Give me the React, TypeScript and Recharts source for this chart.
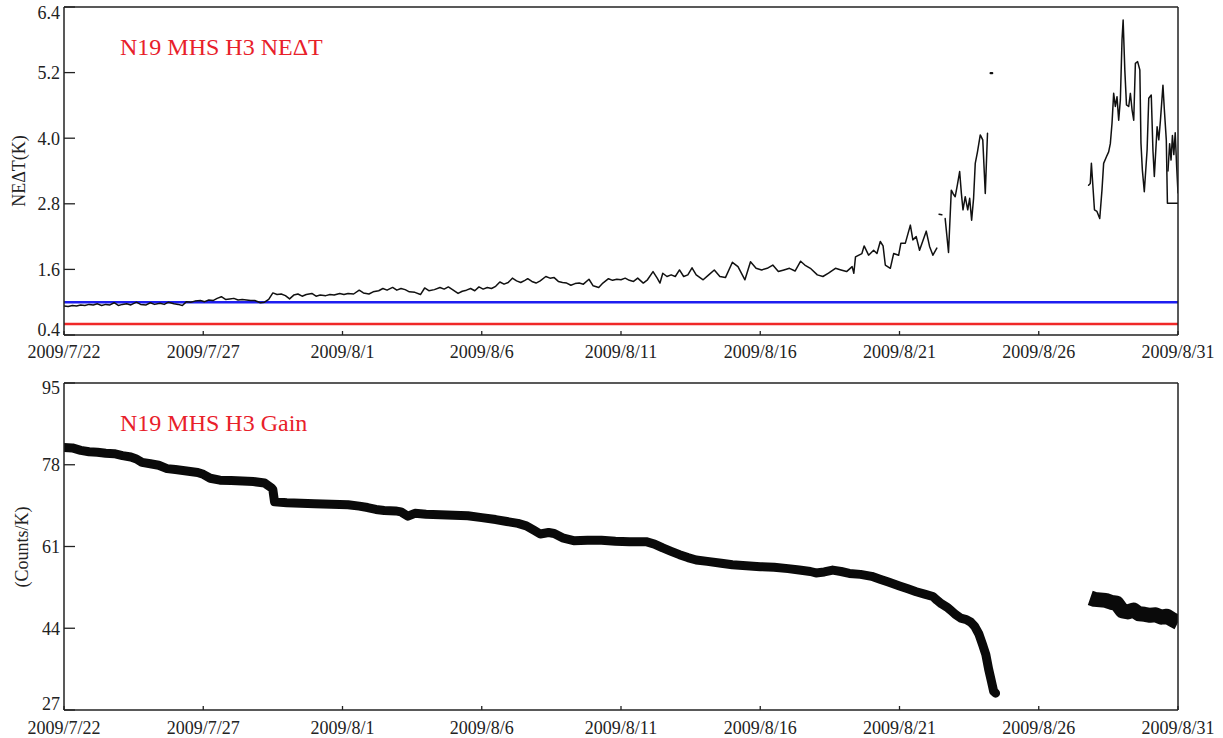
import React from 'react';
import { LineChart, Line, XAxis, YAxis, ReferenceLine } from 'recharts';

// ---- axis labels / ticks ----
const dateLabels = ['2009/7/22', '2009/7/27', '2009/8/1', '2009/8/6', '2009/8/11', '2009/8/16', '2009/8/21', '2009/8/26', '2009/8/31'];
const dayTicks = [0, 5, 10, 15, 20, 25, 30, 35, 40];
const netTicks = [0.4, 1.6, 2.8, 4.0, 5.2, 6.4];
const gainTicks = [27, 44, 61, 78, 95];

// ---- reference levels (K) ----
const netSpecLimit = 1.0;
const netPrelaunch = 0.6;

// ---- NEdT series: [day since 2009/7/22, K] ----
const neSeg1: [number, number][] = [
  [0.0, 0.93], [0.15, 0.92], [0.3, 0.94], [0.45, 0.93], [0.6, 0.95], [0.75, 0.94], [0.9, 0.96], [1.05, 0.95],
  [1.2, 0.97], [1.35, 0.94], [1.5, 0.96], [1.65, 0.95], [1.8, 0.99], [1.95, 0.94], [2.1, 0.96], [2.25, 0.97],
  [2.4, 0.95], [2.6, 1.0], [2.75, 0.96], [2.95, 0.95], [3.1, 0.99], [3.25, 0.96], [3.45, 0.98], [3.6, 0.96],
  [3.75, 1.0], [3.95, 0.97], [4.1, 0.96], [4.25, 0.94], [4.4, 1.01], [4.55, 1.0], [4.7, 1.02], [4.9, 1.03],
  [5.05, 1.01], [5.2, 1.04], [5.35, 1.03], [5.5, 1.07], [5.65, 1.1], [5.8, 1.05], [5.95, 1.06], [6.1, 1.07],
  [6.25, 1.04], [6.4, 1.05], [6.55, 1.04], [6.7, 1.03], [6.85, 1.03], [7.05, 0.99], [7.2, 1.0], [7.35, 1.05],
  [7.5, 1.17], [7.65, 1.14], [7.8, 1.15], [7.95, 1.12], [8.1, 1.06], [8.25, 1.13], [8.4, 1.15], [8.55, 1.11],
  [8.7, 1.14], [8.9, 1.16], [9.05, 1.11], [9.2, 1.13], [9.4, 1.12], [9.55, 1.14], [9.7, 1.13], [9.9, 1.16],
  [10.05, 1.14], [10.2, 1.16], [10.4, 1.15], [10.6, 1.22], [10.75, 1.17], [10.95, 1.15], [11.1, 1.19], [11.3, 1.21],
  [11.45, 1.25], [11.6, 1.22], [11.8, 1.27], [11.95, 1.22], [12.1, 1.25], [12.25, 1.23], [12.4, 1.19], [12.6, 1.18],
  [12.8, 1.14], [12.95, 1.26], [13.1, 1.21], [13.3, 1.23], [13.5, 1.27], [13.65, 1.24], [13.8, 1.28], [13.95, 1.23],
  [14.15, 1.16], [14.3, 1.2], [14.45, 1.22], [14.6, 1.25], [14.75, 1.21], [14.9, 1.28], [15.05, 1.24], [15.2, 1.27],
  [15.35, 1.25], [15.5, 1.29], [15.65, 1.37], [15.8, 1.33], [15.95, 1.36], [16.1, 1.44], [16.25, 1.39], [16.4, 1.36],
  [16.55, 1.4], [16.65, 1.43], [16.8, 1.38], [16.95, 1.35], [17.1, 1.39], [17.3, 1.47], [17.45, 1.44], [17.6, 1.45],
  [17.75, 1.38], [17.9, 1.36], [18.05, 1.35], [18.2, 1.31], [18.35, 1.34], [18.5, 1.35], [18.65, 1.33], [18.85, 1.42],
  [19.0, 1.3], [19.2, 1.27], [19.35, 1.35], [19.55, 1.43], [19.7, 1.4], [19.85, 1.42], [20.0, 1.41], [20.15, 1.44],
  [20.3, 1.4], [20.45, 1.38], [20.6, 1.44], [20.8, 1.35], [20.95, 1.41], [21.15, 1.56], [21.3, 1.44], [21.4, 1.35],
  [21.5, 1.53], [21.65, 1.47], [21.8, 1.5], [21.95, 1.47], [22.1, 1.59], [22.25, 1.47], [22.4, 1.5], [22.55, 1.63],
  [22.7, 1.5], [22.95, 1.41], [23.15, 1.5], [23.35, 1.59], [23.55, 1.47], [23.75, 1.45], [24.0, 1.73], [24.2, 1.65],
  [24.45, 1.41], [24.65, 1.74], [24.85, 1.62], [25.05, 1.59], [25.25, 1.62], [25.45, 1.68], [25.65, 1.56], [25.85, 1.59],
  [26.05, 1.62], [26.25, 1.57], [26.45, 1.75], [26.6, 1.68], [26.8, 1.62], [27.05, 1.5], [27.25, 1.47], [27.45, 1.53],
  [27.7, 1.62], [27.9, 1.59], [28.1, 1.56], [28.3, 1.65], [28.36, 1.53], [28.42, 1.83], [28.65, 1.89], [28.73, 2.03],
  [28.89, 1.86], [29.07, 1.95], [29.19, 1.89], [29.31, 2.11], [29.41, 2.03], [29.49, 1.68], [29.67, 1.62], [29.79, 1.89],
  [29.97, 1.86], [30.05, 2.08], [30.21, 2.08], [30.39, 2.41], [30.48, 2.14], [30.6, 2.2], [30.72, 1.95], [30.96, 2.3],
  [31.08, 2.02], [31.2, 1.86], [31.34, 1.99],
];
const neSeg2: [number, number][] = [[31.42, 2.61], [31.52, 2.6]];
const neSeg3: [number, number][] = [
  [31.64, 2.53], [31.76, 1.91], [31.86, 3.05], [31.93, 2.98], [32.0, 2.93], [32.08, 3.15], [32.16, 3.39], [32.22, 3.0],
  [32.28, 2.69], [32.36, 2.93], [32.45, 2.69], [32.52, 2.9], [32.59, 2.5], [32.66, 2.9], [32.72, 3.54], [32.8, 3.75],
  [32.9, 4.06], [32.99, 3.97], [33.08, 2.99], [33.16, 4.09],
];
const neDot: [number, number][] = [[33.27, 5.19], [33.33, 5.19]];
const neSeg4: [number, number][] = [
  [36.79, 3.14], [36.85, 3.17], [36.89, 3.54], [36.95, 3.08], [37.0, 2.69], [37.09, 2.66], [37.19, 2.53], [37.27, 3.05],
  [37.33, 3.54], [37.43, 3.66], [37.51, 3.75], [37.57, 3.9], [37.63, 4.27], [37.69, 4.82], [37.75, 4.58], [37.81, 4.76],
  [37.87, 4.33], [37.93, 4.7], [37.99, 5.8], [38.03, 6.16], [38.09, 5.25], [38.15, 4.61], [38.23, 4.58], [38.29, 4.82],
  [38.35, 4.52], [38.41, 4.33], [38.47, 5.37], [38.55, 5.4], [38.63, 5.25], [38.67, 3.91], [38.72, 3.42], [38.79, 3.02],
  [38.89, 3.78], [38.95, 4.73], [39.04, 4.79], [39.1, 3.78], [39.15, 3.3], [39.25, 4.21], [39.31, 3.97], [39.37, 4.33],
  [39.46, 4.97], [39.51, 4.52], [39.58, 3.97], [39.62, 2.81], [39.99, 2.81],
];
const neSeg5: [number, number][] = [
  [39.64, 3.4], [39.7, 3.9], [39.75, 3.6], [39.8, 4.05], [39.85, 3.7], [39.9, 4.1], [39.95, 3.5], [40.0, 3.0],
];

// ---- Gain series: [day, counts/K] ----
const gainSeg1: [number, number][] = [
  [0.0, 81.6], [0.3, 81.5], [0.6, 81.0], [0.9, 80.7], [1.2, 80.6], [1.5, 80.4], [1.8, 80.3], [2.1, 79.9],
  [2.4, 79.6], [2.6, 79.2], [2.8, 78.5], [3.1, 78.2], [3.4, 77.9], [3.7, 77.2], [4.0, 77.0], [4.4, 76.7],
  [4.8, 76.4], [5.0, 76.0], [5.25, 75.2], [5.6, 74.8], [6.0, 74.7], [6.4, 74.6], [6.8, 74.5], [7.2, 74.2],
  [7.45, 73.2], [7.5, 72.8], [7.56, 70.3], [8.0, 70.1], [8.5, 70.0], [9.0, 69.9], [9.6, 69.8], [10.2, 69.7],
  [10.6, 69.4], [10.9, 69.1], [11.2, 68.7], [11.5, 68.5], [11.9, 68.4], [12.1, 68.2], [12.35, 67.3], [12.6, 67.9],
  [13.0, 67.7], [13.5, 67.6], [14.0, 67.5], [14.5, 67.4], [15.0, 67.0], [15.5, 66.6], [15.9, 66.2], [16.3, 65.8],
  [16.6, 65.3], [16.9, 64.3], [17.1, 63.6], [17.4, 63.9], [17.6, 63.7], [17.9, 62.8], [18.3, 62.2], [18.8, 62.3],
  [19.3, 62.3], [19.8, 62.1], [20.3, 62.0], [20.9, 62.0], [21.2, 61.5], [21.5, 60.7], [21.8, 60.0], [22.1, 59.3],
  [22.4, 58.7], [22.7, 58.2], [23.1, 57.9], [23.6, 57.5], [24.0, 57.2], [24.5, 57.0], [25.0, 56.8], [25.5, 56.7],
  [26.0, 56.4], [26.4, 56.1], [26.8, 55.8], [27.0, 55.5], [27.3, 55.7], [27.6, 56.1], [27.9, 55.8], [28.2, 55.4],
  [28.6, 55.2], [29.0, 54.8], [29.3, 54.2], [29.6, 53.6], [30.0, 52.8], [30.3, 52.2], [30.6, 51.6], [30.9, 51.1],
  [31.2, 50.6], [31.35, 49.8], [31.5, 49.1], [31.7, 48.4], [31.85, 47.7], [32.0, 46.9], [32.2, 46.1], [32.4, 45.8],
  [32.55, 45.3], [32.7, 44.4], [32.85, 42.8], [33.0, 40.3], [33.1, 38.5], [33.2, 35.5], [33.3, 33.0], [33.38, 30.9],
  [33.45, 30.5],
];
const gainSeg2: [number, number][] = [
  [36.85, 50.3], [37.0, 50.0], [37.2, 49.9], [37.4, 49.8], [37.6, 49.4], [37.8, 49.2], [38.0, 47.6], [38.2, 47.4],
  [38.4, 47.8], [38.6, 47.0], [38.8, 46.9], [39.0, 46.7], [39.2, 46.8], [39.4, 46.3], [39.6, 46.5], [39.8, 45.8],
  [40.0, 45.2],
];

const toRows = (s: [number, number][]) => s.map(([d, v]) => ({ d, v }));

const FONT = '"Liberation Serif", "Times New Roman", Times, serif';
const INK = '#222';
const W = 1223;

const XTick = (props: any) => {
  const { x, y, payload } = props;
  return (
    <text x={x} y={y} dy="0.71em" textAnchor="middle" fontSize={18} fill={INK} fontFamily={FONT}>
      {dateLabels[Math.round(payload.value / 5)]}
    </text>
  );
};

const makeYTick = (lo: number, hi: number, nLo: number, nHi: number, fmt: (v: number) => string) => (props: any) => {
  const { x, y, payload } = props;
  let dy = 0;
  if (payload.value === lo) dy = nLo;
  if (payload.value === hi) dy = nHi;
  return (
    <text x={x} y={y + dy} dy="0.35em" textAnchor="end" fontSize={18} fill={INK} fontFamily={FONT}>
      {fmt(payload.value)}
    </text>
  );
};

const axisCommon = {
  stroke: INK,
  axisLine: { stroke: INK, strokeWidth: 1.5 },
  tickLine: { stroke: INK, strokeWidth: 1.3 },
};

const xAxes = (tickMargin: number, h: number) => [
  <XAxis key="xb" xAxisId="b" dataKey="d" type="number" domain={[0, 40]} ticks={dayTicks} interval={0}
    allowDataOverflow height={h} tickSize={-4} tickMargin={tickMargin} tick={XTick} {...axisCommon} />,
  <XAxis key="xt" xAxisId="t" orientation="top" dataKey="d" type="number" domain={[0, 40]} ticks={dayTicks}
    interval={0} allowDataOverflow height={1} tickSize={-4} tick={false} {...axisCommon} />,
];

const TopPanel = () => (
  <LineChart width={W} height={366} margin={{ top: 6, right: 44, bottom: 0, left: 0 }}>
    {xAxes(14, 31)}
    <YAxis yAxisId="l" type="number" domain={[0.4, 6.4]} ticks={netTicks} interval={0} allowDataOverflow width={64}
      tickSize={-11} tickMargin={15} tick={makeYTick(0.4, 6.4, -5, 6, (v) => v.toFixed(1))} {...axisCommon} />
    <YAxis yAxisId="r" orientation="right" type="number" domain={[0.4, 6.4]} ticks={netTicks} interval={0}
      allowDataOverflow width={1} tickSize={-11} tick={false} {...axisCommon} />
    <ReferenceLine xAxisId="b" yAxisId="l" y={netSpecLimit} stroke="#1e1ef0" strokeWidth={2.6} />
    <ReferenceLine xAxisId="b" yAxisId="l" y={netPrelaunch} stroke="#f02828" strokeWidth={2.6} />
    {[neSeg1, neSeg2, neSeg3, neDot, neSeg4, neSeg5].map((seg, i) => (
      <Line key={i} xAxisId="b" yAxisId="l" data={toRows(seg)} dataKey="v" type="linear" dot={false}
        stroke="#111" strokeWidth={i === 3 ? 2.2 : 1.5} strokeLinejoin="round" strokeLinecap="round"
        isAnimationActive={false} />
    ))}
  </LineChart>
);

const BottomPanel = () => (
  <LineChart width={W} height={372} margin={{ top: 16, right: 44, bottom: 0, left: 0 }}>
    {xAxes(15, 28)}
    <YAxis yAxisId="l" type="number" domain={[27, 95]} ticks={gainTicks} interval={0} allowDataOverflow width={64}
      tickSize={-11} tickMargin={15} tick={makeYTick(27, 95, -6, 5, (v) => String(v))} {...axisCommon} />
    <YAxis yAxisId="r" orientation="right" type="number" domain={[27, 95]} ticks={gainTicks} interval={0}
      allowDataOverflow width={1} tickSize={-11} tick={false} {...axisCommon} />
    <Line xAxisId="b" yAxisId="l" data={toRows(gainSeg1)} dataKey="v" type="linear" dot={false}
      stroke="#0a0a0a" strokeWidth={9} strokeLinejoin="round" strokeLinecap="round" isAnimationActive={false} />
    <Line xAxisId="b" yAxisId="l" data={toRows(gainSeg2)} dataKey="v" type="linear" dot={false}
      stroke="#0a0a0a" strokeWidth={15} strokeLinejoin="round" strokeLinecap="butt" isAnimationActive={false} />
  </LineChart>
);

export default function App() {
  return (
    <div style={{ position: 'absolute', left: 0, top: 0, width: W, height: 738, background: '#fff', fontFamily: FONT }}>
      <div style={{ position: 'absolute', left: 0, top: 0 }}>
        <TopPanel />
      </div>
      <div style={{ position: 'absolute', left: 0, top: 366 }}>
        <BottomPanel />
      </div>
      <svg width={W} height={738} style={{ position: 'absolute', left: 0, top: 0, pointerEvents: 'none' }}>
        <text x={120} y={55} fontSize={24} fill="#e8202a" fontFamily={FONT}>N19 MHS H3 NEΔT</text>
        <text x={120} y={431} fontSize={24} fill="#e8202a" fontFamily={FONT}>N19 MHS H3 Gain</text>
        <text transform="translate(19,171) rotate(-90)" textAnchor="middle" dominantBaseline="central"
          fontSize={18} fill={INK} fontFamily={FONT}>NEΔT(K)</text>
        <text transform="translate(22,547) rotate(-90)" textAnchor="middle" dominantBaseline="central"
          fontSize={18} fill={INK} fontFamily={FONT}>(Counts/K)</text>
      </svg>
    </div>
  );
}
